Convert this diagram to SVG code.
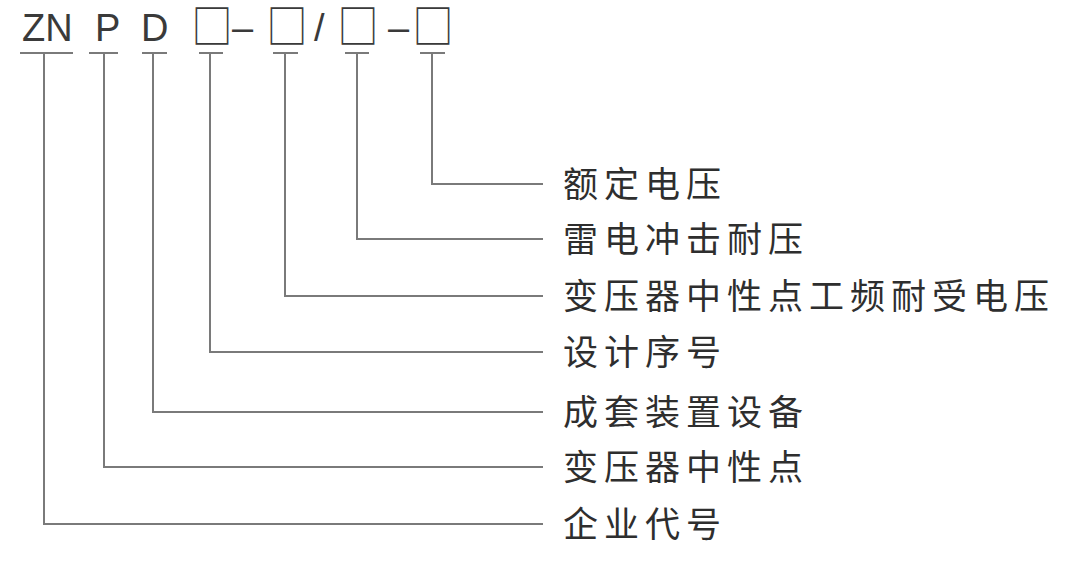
<svg xmlns="http://www.w3.org/2000/svg" width="1079" height="572" viewBox="0 0 1079 572">
<style>
.code{font-family:"Liberation Sans","DejaVu Sans",sans-serif;font-size:38px;fill:#3a3a3a}
.box{font-family:"Noto Sans CJK SC",sans-serif;font-size:41px;fill:#3a3a3a}
.lbl{font-family:"Noto Sans CJK SC","Noto Sans",sans-serif;font-size:35px;letter-spacing:6px;fill:#2e2e2e}
.ln{fill:none;stroke:#7a7a7a;stroke-width:2}
</style>
<rect width="1079" height="572" fill="#fff"/>
<g id="code">
<text class="code" x="22" y="41">ZN</text>
<text class="code" x="95" y="41">P</text>
<text class="code" x="141" y="41">D</text>
<text class="box" transform="translate(191.5,43) scale(1,1.12)">□</text>
<text class="code" x="232" y="41">–</text>
<text class="box" transform="translate(266.5,43) scale(1,1.12)">□</text>
<text class="code" x="314" y="41">/</text>
<text class="box" transform="translate(337.5,43) scale(1,1.12)">□</text>
<text class="code" x="388" y="41">–</text>
<text class="box" transform="translate(412.5,43) scale(1,1.12)">□</text>
</g>
<g id="connectors">
<path class="ln" d="M20 53H73M44 53V524H543"/>
<path class="ln" d="M89 53H118M104 53V467H543"/>
<path class="ln" d="M142 53H167M153 53V412H543"/>
<path class="ln" d="M199 53H223M210 53V352H543"/>
<path class="ln" d="M273 53H298M285 53V296H543"/>
<path class="ln" d="M345 53H369M357 53V239H543"/>
<path class="ln" d="M420 53H445M432 53V184H543"/>
</g>
<g id="n1"><text class="lbl" x="563" y="197">额定电压</text></g>
<g id="n2"><text class="lbl" x="563" y="252">雷电冲击耐压</text></g>
<g id="n3"><text class="lbl" x="563" y="309">变压器中性点工频耐受电压</text></g>
<g id="n4"><text class="lbl" x="563" y="365">设计序号</text></g>
<g id="n5"><text class="lbl" x="563" y="425">成套装置设备</text></g>
<g id="n6"><text class="lbl" x="563" y="480">变压器中性点</text></g>
<g id="n7"><text class="lbl" x="563" y="537">企业代号</text></g>
</svg>
